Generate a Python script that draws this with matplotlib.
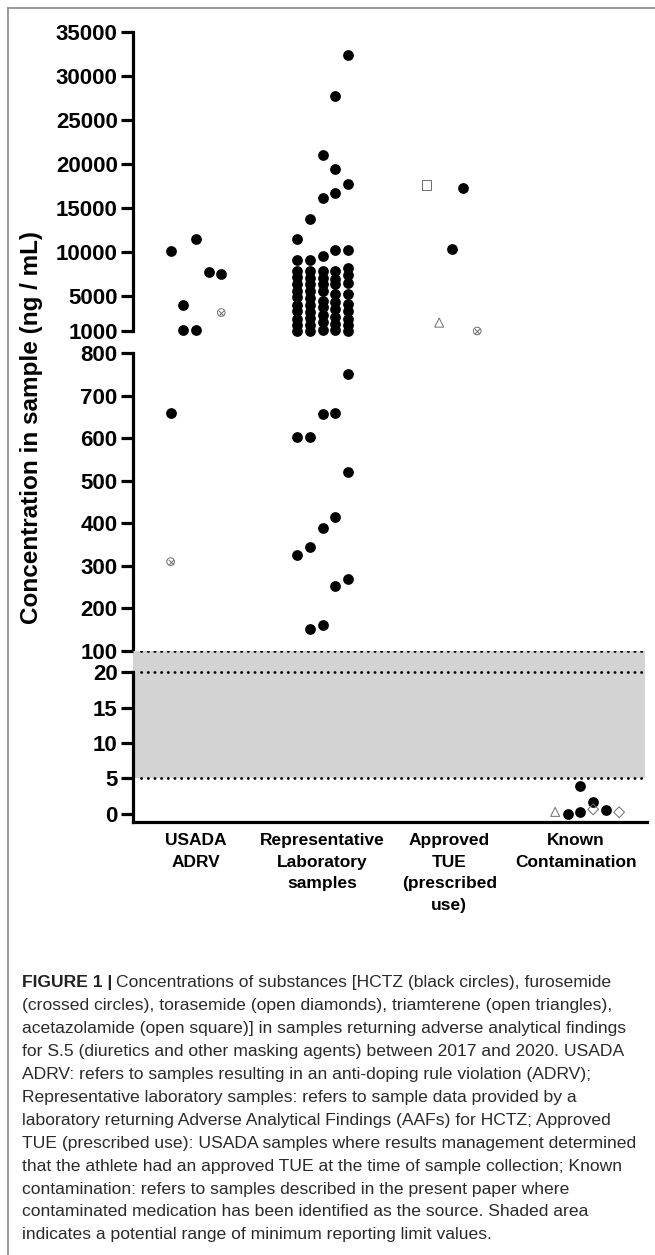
import numpy as np
import matplotlib.pyplot as plt
from matplotlib.lines import Line2D

plt.rcParams['font.family'] = ['Liberation Sans', 'DejaVu Sans']

######### data
categories = ["USADA\nADRV", "Representative\nLaboratory\nsamples",
              "Approved\nTUE\n(prescribed\nuse)", "Known\nContamination"]

# HCTZ (black circles): values (ng/mL) and slot in the column, per group
usada_vals = [10100, 3950, 1100, 11500, 1150, 7700, 7500, 660]
usada_slot = [-2, -1, -1, 0, 0, 1, 2, -2]

lab_vals = ([32300, 27700, 21000, 19400, 17700, 16700, 16100, 13700, 11400,
             9550, 10250, 10250, 9050, 9100]
            + [7800, 7100, 6300, 5600, 4900, 4000, 3300, 2400, 1700, 1050]
            + [7800, 7000, 6300, 5500, 4800, 3900, 3200, 2500, 1700, 1050]
            + [7800, 7000, 6300, 5500, 4400, 3700, 2800, 2000, 1150]
            + [7800, 6900, 6300, 5200, 4300, 3500, 2600, 1800, 1100]
            + [8100, 7400, 6500, 5200, 4100, 3300, 2400, 1700, 1050]
            + [750, 656, 660, 602, 603, 520, 390, 414, 325, 344, 253, 269, 152, 161])
lab_slot = ([2, 1, 0, 1, 2, 1, 0, -1, -2, 0, 1, 2, -2, -1]
            + [-2]*10 + [-1]*10 + [0]*9 + [1]*9 + [2]*9
            + [2, 0, 1, -2, -1, 2, 0, 1, -2, -1, 1, 2, -1, 0])

tue_vals = [17200, 10300]
tue_slot = [1.1, 0.2]

contam_vals = [0.05, 0.3, 3.9, 1.65, 0.55]
contam_slot = [-0.65, 0.35, 0.35, 1.35, 2.35]

# furosemide (crossed circles)
furo_group = [1, 1, 3]
furo_slot = [2, -2, 2.2]
furo_vals = [3100, 310, 1000]
# torasemide (open diamonds)
tora_group = [4, 4]
tora_slot = [1.35, 3.4]
tora_vals = [0.65, 0.25]
# triamterene (open triangles)
tria_group = [3, 4]
tria_slot = [-0.8, -1.65]
tria_vals = [1950, 0.3]
# acetazolamide (open square)
acet_group = [3]
acet_slot = [-1.8]
acet_vals = [17600]

caption = [
    "Concentrations of substances [HCTZ (black circles), furosemide",
    "(crossed circles), torasemide (open diamonds), triamterene (open triangles),",
    "acetazolamide (open square)] in samples returning adverse analytical findings",
    "for S.5 (diuretics and other masking agents) between 2017 and 2020. USADA",
    "ADRV: refers to samples resulting in an anti-doping rule violation (ADRV);",
    "Representative laboratory samples: refers to sample data provided by a",
    "laboratory returning Adverse Analytical Findings (AAFs) for HCTZ; Approved",
    "TUE (prescribed use): USADA samples where results management determined",
    "that the athlete had an approved TUE at the time of sample collection; Known",
    "contamination: refers to samples described in the present paper where",
    "contaminated medication has been identified as the source. Shaded area",
    "indicates a potential range of minimum reporting limit values.",
]
##########

hctz_group = ([1]*len(usada_vals) + [2]*len(lab_vals)
              + [3]*len(tue_vals) + [4]*len(contam_vals))
hctz_slot = usada_slot + lab_slot + tue_slot + contam_slot
hctz_vals = usada_vals + lab_vals + tue_vals + contam_vals

SLOT = 0.1
W = 655
H = 1255
fig = plt.figure(figsize=(W/100, H/100), dpi=100)

def fpos(x0, x1, ytop, ybot):
    return [x0/W, 1 - ybot/H, (x1 - x0)/W, (ybot - ytop)/H]

ax_top = fig.add_axes(fpos(133, 647, 31.7, 331))
ax_mid = fig.add_axes(fpos(133, 647, 353, 651))
ax_bot = fig.add_axes(fpos(133, 647, 651, 822))

# bottom segment: 0-20 linear, 20-100 squeezed
SQ = 2.96 / 80
def fwd(v):
    v = np.asarray(v, dtype=float)
    return np.where(v <= 20, v, 20 + (v - 20)*SQ)
def inv(u):
    u = np.asarray(u, dtype=float)
    return np.where(u <= 20, u, 20 + (u - 20)/SQ)
ax_bot.set_yscale('function', functions=(fwd, inv))

ax_top.set_ylim(1000, 35000)
ax_mid.set_ylim(100, 800)
ax_bot.set_ylim(-1.13, 100)
for ax in (ax_top, ax_mid, ax_bot):
    ax.set_xlim(0.503, 4.56)
    ax.patch.set_alpha(0)
    for s in ('top', 'right'):
        ax.spines[s].set_visible(False)
    ax.spines['left'].set_linewidth(2.3)
    ax.tick_params(axis='y', length=9, width=2.3, pad=2)
for ax in (ax_top, ax_mid):
    ax.spines['bottom'].set_visible(False)
    ax.set_xticks([])
ax_bot.spines['bottom'].set_linewidth(2.3)
ax_bot.spines['left'].set_bounds(-1.13, 20)

ax_top.set_yticks([1000, 5000, 10000, 15000, 20000, 25000, 30000, 35000])
ax_mid.set_yticks([200, 300, 400, 500, 600, 700, 800])
ax_bot.set_yticks([0, 5, 10, 15, 20, 100])
for ax in (ax_top, ax_mid, ax_bot):
    ax.set_yticklabels([str(int(t)) for t in ax.get_yticks()],
                       fontweight='bold', fontsize=16)

ax_bot.set_xticks([1, 2, 3, 4])
ax_bot.set_xticklabels(categories, fontweight='bold', fontsize=12.5)
for lab in ax_bot.get_xticklabels():
    lab.set_linespacing(1.55)
ax_bot.tick_params(axis='x', length=0, pad=8)

# shaded minimum reporting limit range
ax_bot.axhspan(5, 100, xmin=0, xmax=0.996, color='#d3d3d3', lw=0, zorder=0)
for lvl in (5, 20, 100):
    ax_bot.axhline(lvl, xmin=0.015, xmax=0.99, color='black', lw=2.0,
                   ls=(0, (0.1, 2.3)), dash_capstyle='round', zorder=1)

def draw(groups, slots, vals, **kw):
    groups = np.asarray(groups, dtype=float)
    slots = np.asarray(slots, dtype=float)
    vals = np.asarray(vals, dtype=float)
    x = groups + slots*SLOT
    for ax, m in ((ax_top, vals >= 1000),
                  (ax_mid, (vals >= 100) & (vals < 1000)),
                  (ax_bot, vals < 100)):
        if m.any():
            ax.scatter(x[m], vals[m], clip_on=False, zorder=3, **kw)

draw(hctz_group, hctz_slot, hctz_vals, s=60, color='black', lw=0)
grey = '#6e6e6e'
draw(furo_group, furo_slot, furo_vals, s=30, marker='o', facecolor='none',
     edgecolor=grey, lw=0.7)
draw(furo_group, furo_slot, furo_vals, s=14, marker='x', color=grey, lw=0.7)
draw(tora_group, tora_slot, tora_vals, s=30, marker='D', facecolor='none',
     edgecolor=grey, lw=0.7)
draw(tria_group, tria_slot, tria_vals, s=42, marker='^', facecolor='none',
     edgecolor=grey, lw=0.7)
draw(acet_group, acet_slot, acet_vals, s=45, marker='s', facecolor='none',
     edgecolor=grey, lw=0.7)

fig.text(32/W, 1 - 427/H, "Concentration in sample (ng / mL)", rotation=90,
         ha='center', va='center', fontsize=17.5, fontweight='bold')

# caption
cap_size = 12.6
y0 = 983
step = 22.9
t = fig.text(22/W, 1 - y0/H, "FIGURE 1 |", fontsize=cap_size, fontweight='bold',
             va='center', color='#222222')
fig.canvas.draw()
bb = t.get_window_extent(renderer=fig.canvas.get_renderer())
for i, line in enumerate(caption):
    x = (bb.x1 + 4)/W if i == 0 else 22/W
    fig.text(x, 1 - (y0 + i*step)/H, line, fontsize=cap_size,
             va='center', color='#2a2a2a')

# frame lines of the figure panel
fig.add_artist(Line2D([8/W, 8/W], [0, 1 - 8/H], color='#8a8a8a', lw=1.2))
fig.add_artist(Line2D([8/W, 1], [1 - 8/H, 1 - 8/H], color='#8a8a8a', lw=1.2))

fig.savefig('out.png', dpi=100)
